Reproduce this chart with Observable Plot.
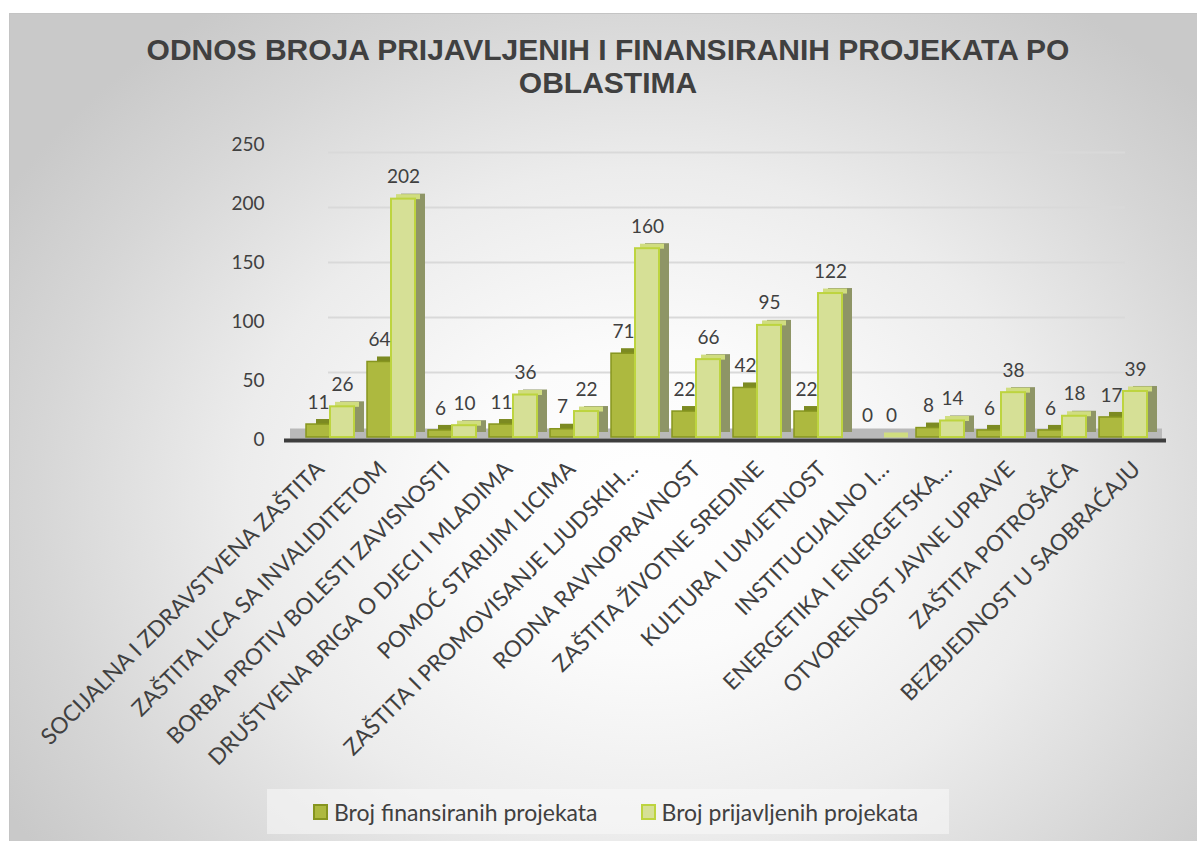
<!DOCTYPE html>
<html>
<head>
<meta charset="utf-8">
<script src="https://cdn.jsdelivr.net/npm/d3@7"></script>
<script src="https://cdn.jsdelivr.net/npm/@observablehq/plot@0.6"></script>
<style>
  html, body { margin: 0; padding: 0; background: #ffffff; }
  #wrap { position: relative; width: 1197px; height: 841px; overflow: hidden; background: #ffffff; }
  #frame { position: absolute; left: 9px; top: 13px; width: 1200px; height: 840px;
    background: radial-gradient(ellipse 62% 72% at 53% 58%, #ffffff 0%, #fbfbfb 25%, #ececec 55%, #d6d6d6 82%, #c9c9c9 100%);
    border-top: 1px solid #c4c4c4; border-left: 1px solid #c4c4c4; }
  #title { position: absolute; left: 0; width: 1216px; top: 33px; text-align: center;
    font-family: "Liberation Sans", Arial, sans-serif; font-weight: bold; font-size: 30px; line-height: 33px; color: #404040; }
  .layer { position: absolute; left: 0; top: 0; }
  #legend { position: absolute; left: 267px; top: 789px; width: 682px; height: 45px; box-sizing: border-box;
    background: rgba(250,250,250,0.55); display: flex; align-items: center; justify-content: flex-start; gap: 43px;
    padding-left: 46px; font-family: Lato, sans-serif; font-size: 23px; color: #404040; }
  .item { display: flex; align-items: center; gap: 6px; }
  .sw { width: 11px; height: 12px; border: 2px solid; }
</style>
</head>
<body>
<div id="wrap">
  <div id="frame"></div>
  <div id="title">ODNOS BROJA PRIJAVLJENIH I FINANSIRANIH PROJEKATA PO<br>OBLASTIMA</div>
  <div id="backwall" class="layer"></div>
  <div id="chart" class="layer"></div>
  <div id="legend"></div>
</div>
<script>
const categories = [
  "SOCIJALNA I ZDRAVSTVENA ZAŠTITA",
  "ZAŠTITA LICA SA INVALIDITETOM",
  "BORBA PROTIV BOLESTI ZAVISNOSTI",
  "DRUŠTVENA BRIGA O DJECI I MLADIMA",
  "POMOĆ STARIJIM LICIMA",
  "ZAŠTITA I PROMOVISANJE LJUDSKIH…",
  "RODNA RAVNOPRAVNOST",
  "ZAŠTITA ŽIVOTNE SREDINE",
  "KULTURA I UMJETNOST",
  "INSTITUCIJALNO I…",
  "ENERGETIKA I ENERGETSKA…",
  "OTVORENOST JAVNE UPRAVE",
  "ZAŠTITA POTROŠAČA",
  "BEZBJEDNOST U SAOBRAĆAJU"
];
const financed = [11, 64, 6, 11, 7, 71, 22, 42, 22, 0, 8, 6, 6, 17];
const applied  = [26, 202, 10, 36, 22, 160, 66, 95, 122, 0, 14, 38, 18, 39];
const yTicks = [0, 50, 100, 150, 200, 250];
const seriesNames = ["Broj finansiranih projekata", "Broj prijavljenih projekata"];
const seriesColors = ["#adb93f", "#d6e096"];
const seriesBorders = ["#86951f", "#bdd43f"];

const rows = categories.map((c, i) => ({category: c, financed: financed[i], applied: applied[i]}));

const font = "Lato, 'Open Sans', sans-serif";

// Back wall (Excel 3-D perspective): gridlines and the spread-out category labels
const backPlot = Plot.plot({
  width: 1197,
  height: 841,
  marginLeft: 326,
  marginRight: 55,
  marginTop: 152,
  marginBottom: 414,
  style: {background: "transparent", fontFamily: font, color: "#404040", overflow: "visible"},
  x: {type: "point", domain: categories, padding: 0, round: false, axis: null},
  y: {domain: [0, 250], axis: null},
  marks: [
    Plot.ruleY(yTicks.filter(d => d > 0), {stroke: "#d9d9d9", strokeWidth: 2, insetLeft: 2, insetRight: 17}),
    Plot.axisX({tickRotate: -45, tickSize: 0, tickPadding: 38, fontSize: 22.5, color: "#404040", dx: -6, label: null})
  ]
});
document.getElementById("backwall").appendChild(backPlot);

const chart = Plot.plot({
  width: 1197,
  height: 841,
  marginLeft: 290,
  marginRight: 35,
  marginTop: 142,
  marginBottom: 404,
  style: {background: "transparent", fontFamily: font, color: "#404040", overflow: "visible"},
  x: {domain: categories, paddingInner: 13 / 61, paddingOuter: 0.25, axis: null},
  y: {domain: [0, 250], axis: null},
  marks: [
    Plot.ruleY([0], {stroke: "#b9b9b9", strokeWidth: 10, dy: -4}),
    Plot.ruleY([0], {stroke: "#3d3d3d", strokeWidth: 4, dy: 3, insetLeft: -6, insetRight: -4}),
    Plot.axisY({ticks: yTicks, tickSize: 0, tickPadding: 26, fontSize: 19, color: "#404040", dy: 2, label: null}),
    // financed series (dark)
    Plot.barY(rows, {x: "category", y: "financed", insetRight: 24, dx: 10, dy: -5, fill: "#7c8a22"}),
    Plot.barY(rows, {x: "category", y: "financed", insetRight: 24, fill: seriesColors[0], stroke: seriesBorders[0], strokeWidth: 1.5}),
    // applied series (light)
    Plot.barY(rows, {x: "category", y: "applied", insetLeft: 24, dx: 10, dy: -5, fill: "#8e9566"}),
    Plot.tickY(rows, {x: "category", y: "applied", insetLeft: 24, dx: 5, dy: -2.5, stroke: "#d0dd80", strokeWidth: 5}),
    Plot.barY(rows, {x: "category", y: "applied", insetLeft: 24, fill: seriesColors[1], stroke: seriesBorders[1], strokeWidth: 2}),
    // value labels
    Plot.text(rows, {x: "category", y: "financed", text: d => String(d.financed), dx: -12, dy: -22, fontSize: 19, fill: "#404040"}),
    Plot.text(rows, {x: "category", y: "applied", text: d => String(d.applied), dx: 12, dy: -22, fontSize: 19, fill: "#404040"})
  ]
});
document.getElementById("chart").appendChild(chart);

const legend = document.getElementById("legend");
seriesNames.forEach((name, i) => {
  const item = document.createElement("div");
  item.className = "item";
  const sw = document.createElement("span");
  sw.className = "sw";
  sw.style.background = seriesColors[i];
  sw.style.borderColor = seriesBorders[i];
  const t = document.createElement("span");
  t.textContent = name;
  item.appendChild(sw);
  item.appendChild(t);
  legend.appendChild(item);
});
</script>
</body>
</html>
